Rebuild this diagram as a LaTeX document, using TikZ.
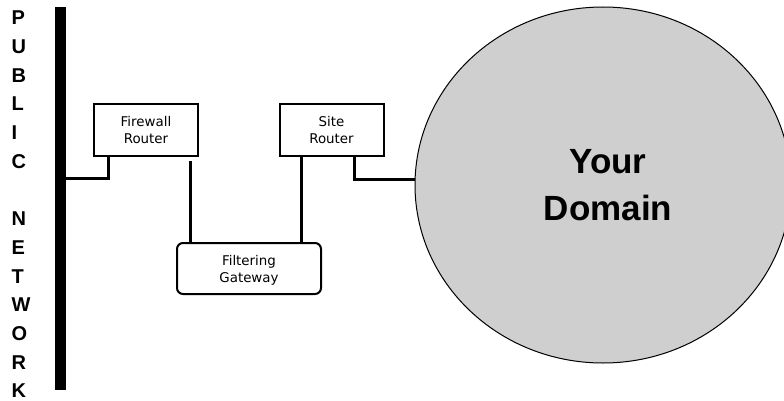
\documentclass[tikz,border=0pt]{standalone}
\usepackage{fontspec}
\setmainfont{DejaVu Sans}
\newfontfamily\arialfont{Liberation Sans}
\usetikzlibrary{shapes.geometric}
\definecolor{domfill}{gray}{0.81}
\begin{document}
\begin{tikzpicture}[x=1pt,y=-1pt,
  box/.style={draw, line width=2pt, inner sep=0pt, align=center, text depth=0pt,
    font=\fontsize{13.4}{17}\selectfont},
  conn/.style={line width=3pt},
  letter/.style={anchor=base west, inner sep=0pt,
    font=\arialfont\bfseries\fontsize{20}{20}\selectfont}]
\useasboundingbox (0,0) rectangle (784,401);
% public network bar and label
\node[fill=black, minimum width=11pt, minimum height=383pt, inner sep=0pt] (bar) at (60.5,198.5) {};
\foreach \ch/\k in {P/0,U/1,B/2,L/3,I/4,C/5,N/7,E/8,T/9,W/10,O/11,R/12,K/13}
  \node[letter] (l\k) at (11.5,24.8+28.7*\k) {\ch};
% domain
\node[ellipse, draw, line width=1pt, fill=domfill, minimum width=376pt, minimum height=356pt, inner sep=0pt] (dom) at (603,185) {};
\node[inner sep=0pt, align=center, font=\arialfont\bfseries\fontsize{35}{47}\selectfont] (domtxt) at (608,185) {Your\\Domain};
% boxes
\node[box, minimum width=104pt, minimum height=52pt] (fw) at (146,130) {Firewall\\Router};
\node[box, minimum width=104pt, minimum height=52pt] (site) at (331.5,130) {Site\\Router};
\node[box, rounded corners=6pt, minimum width=144pt, minimum height=51pt] (gw) at (249,268.5) {Filtering\\Gateway};
% connectors
\draw[conn] (bar.east |- 0,178) -| (fw.south -| 108,0);
\coordinate (fwtap) at (190,161);
\draw[conn] (fwtap) -- (fwtap |- gw.north);
\draw[conn] (site.south -| 301,0) -- (gw.north -| 301,0);
\draw[conn] (site.south -| 354,0) |- (dom.west |- 0,179);
\end{tikzpicture}
\end{document}
